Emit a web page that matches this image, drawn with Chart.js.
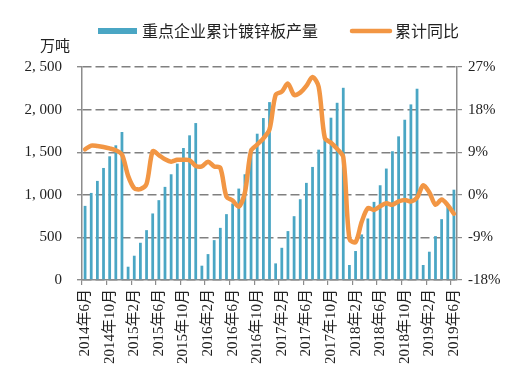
<!DOCTYPE html>
<html>
<head>
<meta charset="utf-8">
<script src="https://cdn.jsdelivr.net/npm/chart.js@4.4.1/dist/chart.umd.min.js"></script>
<style>
html,body{margin:0;padding:0;background:#fff;}
#wrap{width:513px;height:385px;}
</style>
</head>
<body>
<div id="wrap"><canvas id="c" width="513" height="385"></canvas></div>
<script>
const categories = [
 '2014年6月','2014年7月','2014年8月','2014年9月','2014年10月','2014年11月','2014年12月',
 '2015年1月','2015年2月','2015年3月','2015年4月','2015年5月','2015年6月','2015年7月','2015年8月','2015年9月','2015年10月','2015年11月','2015年12月',
 '2016年1月','2016年2月','2016年3月','2016年4月','2016年5月','2016年6月','2016年7月','2016年8月','2016年9月','2016年10月','2016年11月','2016年12月',
 '2017年1月','2017年2月','2017年3月','2017年4月','2017年5月','2017年6月','2017年7月','2017年8月','2017年9月','2017年10月','2017年11月','2017年12月',
 '2018年1月','2018年2月','2018年3月','2018年4月','2018年5月','2018年6月','2018年7月','2018年8月','2018年9月','2018年10月','2018年11月','2018年12月',
 '2019年1月','2019年2月','2019年3月','2019年4月','2019年5月','2019年6月'
];
const production = [
 870, 1022, 1163, 1315, 1452, 1581, 1737,
 156, 285, 437, 585, 781, 937, 1093, 1241, 1366, 1549, 1698, 1842,
 168, 304, 468, 612, 773, 898, 1073, 1241, 1542, 1717, 1901, 2088,
 195, 378, 574, 749, 948, 1140, 1327, 1530, 1660, 1905, 2080, 2256,
 176, 340, 535, 722, 917, 1112, 1308, 1511, 1686, 1881, 2061, 2245,
 176, 332, 515, 714, 880, 1060
];
const yoy = [
 9.6, 10.4, 10.3, 10.1, 9.8, 9.4, 8.5,
 4.0, 1.4, 1.2, 2.3, 9.2, 8.4, 7.5, 7.0, 7.4, 7.4, 7.3, 6.1,
 6.0, 7.0, 6.0, 5.7, -0.4, -1.2, -2.5, 0.5, 9.3, 10.6, 11.9, 13.8,
 21.1, 21.8, 23.5, 21.1, 21.6, 23.0, 24.9, 22.8, 12.0, 11.0, 9.7, 8.0,
 -9.3, -10.0, -5.7, -2.8, -3.2, -2.4, -1.8, -2.1, -1.4, -1.1, -1.4, -0.6,
 2.0, 0.5, -2.1, -1.0, -2.2, -4.0
];
const leftTickLabels = ['0', '500', '1, 000', '1, 500', '2, 000', '2, 500'];
const rightTickLabels = ['-18%', '-9%', '0%', '9%', '18%', '27%'];
const seriesNames = ['重点企业累计镀锌板产量', '累计同比'];
const unitLabel = '万吨';

const BAR_COLOR = '#4aa6c4';
const LINE_COLOR = '#f29644';
const GRID_COLOR = '#808080';
const AXIS_COLOR = '#8c8c8c';
const TEXT_COLOR = '#222';
const NUM_FONT = "'Liberation Serif', 'Noto Sans CJK SC', serif";
const CJK_FONT = "'Noto Sans CJK SC', sans-serif";

const legendPlugin = {
  id: 'customLegend',
  afterDraw(chart) {
    const ctx = chart.ctx;
    ctx.save();
    ctx.fillStyle = BAR_COLOR;
    ctx.fillRect(98, 28, 39, 6);
    ctx.fillStyle = TEXT_COLOR;
    ctx.font = "16px " + CJK_FONT;
    ctx.textBaseline = 'middle';
    ctx.textAlign = 'left';
    ctx.fillText(seriesNames[0], 142, 31);
    ctx.strokeStyle = LINE_COLOR;
    ctx.lineWidth = 4.5;
    ctx.lineCap = 'round';
    ctx.beginPath();
    ctx.moveTo(352, 31);
    ctx.lineTo(390, 31);
    ctx.stroke();
    ctx.fillText(seriesNames[1], 395, 31);
    ctx.font = "15px " + CJK_FONT;
    ctx.fillText(unitLabel, 40, 45);
    ctx.restore();
  }
};

new Chart(document.getElementById('c'), {
  type: 'bar',
  data: {
    labels: categories,
    datasets: [
      {
        type: 'line',
        label: seriesNames[1],
        data: yoy,
        yAxisID: 'y1',
        borderColor: LINE_COLOR,
        backgroundColor: LINE_COLOR,
        borderWidth: 4.5,
        pointRadius: 0,
        tension: 0.3,
        order: 0,
        borderJoinStyle: 'round',
        borderCapStyle: 'round'
      },
      {
        type: 'bar',
        label: seriesNames[0],
        data: production,
        yAxisID: 'y',
        backgroundColor: BAR_COLOR,
        barPercentage: 0.45,
        categoryPercentage: 1.0,
        order: 1
      }
    ]
  },
  options: {
    responsive: false,
    animation: false,
    devicePixelRatio: 1,
    layout: { padding: { top: 67, left: 0, right: 0, bottom: 0 } },
    plugins: {
      legend: { display: false },
      tooltip: { enabled: false }
    },
    scales: {
      x: {
        offset: true,
        afterFit(scale) { scale.height = 105; },
        grid: {
          offset: true,
          drawOnChartArea: false,
          drawTicks: true,
          tickLength: 5,
          color: (ctx) => (ctx.index % 4 === 0 ? AXIS_COLOR : 'rgba(0,0,0,0)'),
          lineWidth: 1.2
        },
        border: { display: true, color: AXIS_COLOR, width: 1.5 },
        ticks: {
          autoSkip: false,
          maxRotation: 90,
          minRotation: 90,
          padding: 4,
          color: TEXT_COLOR,
          font: { family: NUM_FONT, size: 15 },
          callback: function (value, index) {
            return index % 4 === 0 ? categories[index] : '';
          }
        }
      },
      y: {
        position: 'left',
        min: 0,
        max: 2500,
        afterFit(scale) { scale.width = 82; },
        grid: {
          drawOnChartArea: true,
          drawTicks: true,
          tickLength: 5,
          color: GRID_COLOR,
          lineWidth: 1.4,
          tickColor: AXIS_COLOR,
          tickBorderDash: []
        },
        border: { display: true, color: AXIS_COLOR, width: 1.5, dash: [9, 4] },
        ticks: {
          stepSize: 500,
          padding: 15,
          color: TEXT_COLOR,
          font: { family: NUM_FONT, size: 15 },
          callback: function (value, index) { return leftTickLabels[index]; }
        }
      },
      y1: {
        position: 'right',
        min: -18,
        max: 27,
        afterFit(scale) { scale.width = 56; },
        grid: {
          drawOnChartArea: false,
          drawTicks: true,
          tickLength: 5,
          color: AXIS_COLOR,
          lineWidth: 1.2
        },
        border: { display: true, color: AXIS_COLOR, width: 1.5 },
        ticks: {
          stepSize: 9,
          padding: 6,
          color: TEXT_COLOR,
          font: { family: NUM_FONT, size: 15 },
          callback: function (value, index) { return rightTickLabels[index]; }
        }
      }
    }
  },
  plugins: [legendPlugin]
});
</script>
</body>
</html>
